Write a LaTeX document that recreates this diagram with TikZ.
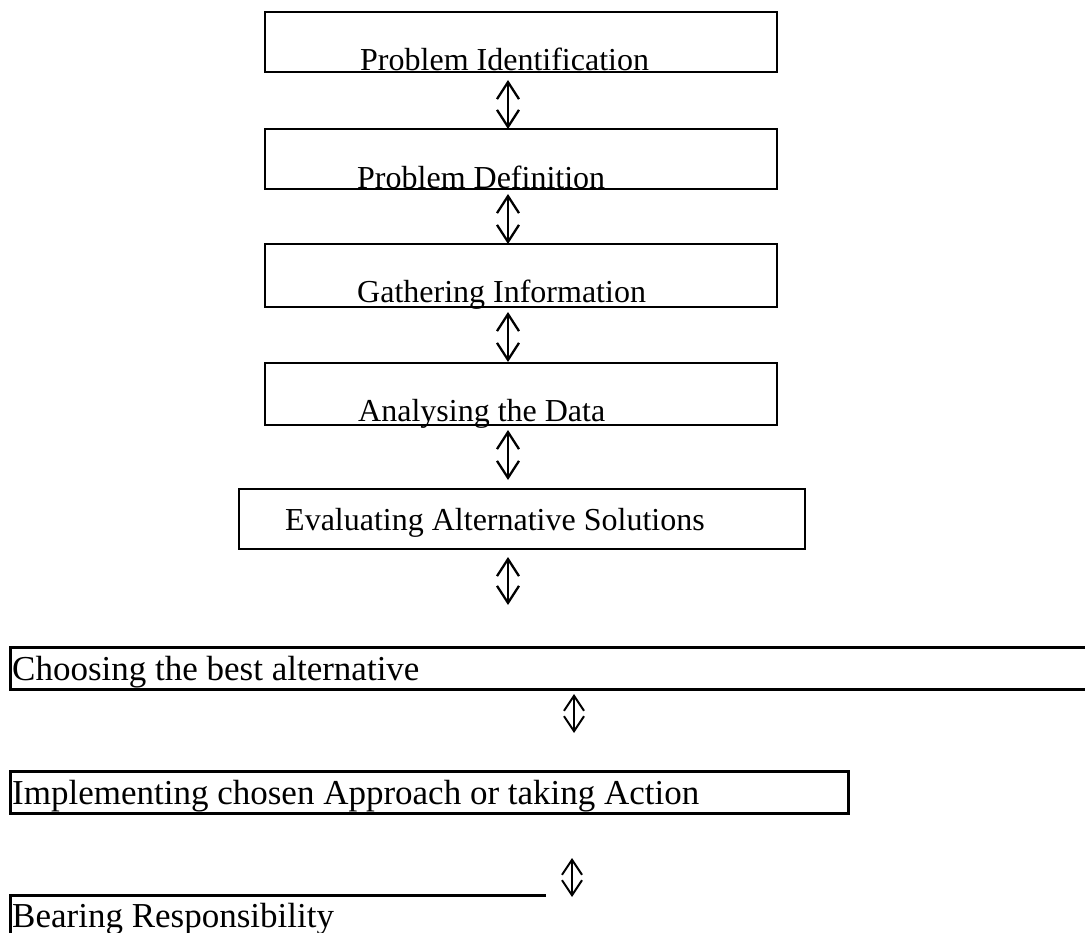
\documentclass[tikz,border=0pt]{standalone}
\usepackage{fontspec}
\setmainfont{Liberation Serif}
\usetikzlibrary{arrows.meta}
\begin{document}
\begin{tikzpicture}[x=1pt,y=-1pt,
  boxline/.style={line width=2.2pt},
  boxlineb/.style={line width=3pt},
  lbl/.style={anchor=base west,inner sep=0pt,font=\fontsize{32}{38}\selectfont},
  lblb/.style={anchor=base west,inner sep=0pt,font=\fontsize{35}{42}\selectfont},
  udarrow/.style={line width=2.3pt,{Straight Barb[length=17pt,width=22pt]}-{Straight Barb[length=17pt,width=22pt]}},
  udarrows/.style={line width=2pt,{Straight Barb[length=15pt,width=20pt]}-{Straight Barb[length=15pt,width=20pt]}}]
\clip (0,0) rectangle (1085,933);
% boxes
\draw[boxline] (265,12) rectangle (777,72);
\coordinate (b1) at (508,72);
\draw[boxline] (265,129) rectangle (777,189);
\coordinate (b2t) at (508,129); \coordinate (b2) at (508,189);
\draw[boxline] (265,244) rectangle (777,307);
\coordinate (b3t) at (508,244); \coordinate (b3) at (508,307);
\draw[boxline] (265,363) rectangle (777,425);
\coordinate (b4t) at (508,363); \coordinate (b4) at (508,425);
\draw[boxline] (239,489) rectangle (805,549);
\coordinate (b5t) at (508,489); \coordinate (b5) at (508,549);
% texts
\node[lbl] (t1) at (360,71) {Problem Identification};
\node[lbl] (t2) at (357,189) {Problem Definition};
\node[lbl] (t3) at (357,303) {Gathering Information};
\node[lbl] (t4) at (358,421) {Analysing the Data};
\node[lbl] (t5) at (285,530) {Evaluating Alternative Solutions};
% arrows
\coordinate (a1s) at (508,80);  \draw[udarrow] (a1s) -- (b2t);
\coordinate (a2s) at (508,194); \draw[udarrow] (a2s) -- (b3t);
\coordinate (a3s) at (508,312); \coordinate (a3e) at (508,362); \draw[udarrow] (a3s) -- (a3e);
\coordinate (a4s) at (508,430); \coordinate (a4e) at (508,480); \draw[udarrow] (a4s) -- (a4e);
\coordinate (a5s) at (508,557); \coordinate (a5e) at (508,605); \draw[udarrow] (a5s) -- (a5e);
% bottom boxes
\draw[boxlineb] (10,647) rectangle (1100,689);
\node[lblb] (t6) at (12,680) {Choosing the best alternative};
\draw[boxlineb] (10,771) rectangle (848,813);
\node[lblb] (t7) at (12,804) {Implementing chosen Approach or taking Action};
\coordinate (brTL) at (10,895);
\draw[boxlineb] (546,895) -- (brTL) -- (10,945);
\node[lblb] (t8) at (12,927) {Bearing Responsibility};
\coordinate (a6s) at (574,694); \coordinate (a6e) at (574,733); \draw[udarrows] (a6s) -- (a6e);
\coordinate (a7s) at (572,858); \coordinate (a7e) at (572,897); \draw[udarrows] (a7s) -- (a7e);
\end{tikzpicture}
\end{document}
